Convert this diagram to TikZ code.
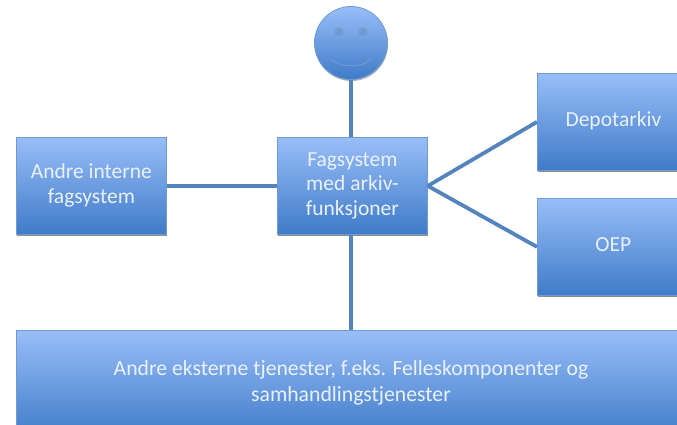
\documentclass[tikz,border=0pt]{standalone}
\usepackage{fontspec}
\setmainfont{Carlito}
\usetikzlibrary{shadows}
\definecolor{boxtop}{HTML}{98BEF8}
\definecolor{boxbot}{HTML}{3F7BC8}
\definecolor{boxedge}{HTML}{6F9BD2}
\definecolor{linkc}{HTML}{5384BE}
\definecolor{txt}{HTML}{EAF1FC}
\newcommand{\lowtext}[2]{\raisebox{-#1pt}{\begin{tabular}{@{}c@{}}#2\end{tabular}}}
\tikzset{
  x=1pt,y=-1pt,
  bluebox/.style={draw=boxedge,line width=0.8pt,top color=boxtop,bottom color=boxbot,
    text=txt,align=center,inner sep=0pt,anchor=north west,font=\fontsize{21.5}{24.7}\selectfont,
    drop shadow={shadow xshift=0.5pt,shadow yshift=-2pt,opacity=0.45,fill=black}},
  link/.style={draw=linkc,line width=3.8pt},
  facedetail/.style={draw=boxedge,line width=1pt}
}
\begin{document}
\begin{tikzpicture}
\useasboundingbox (0,0) rectangle (677,425);
\clip (0,0) rectangle (677,425);
\node[bluebox,minimum width=150pt,minimum height=97pt] (left) at (16,137) {\lowtext{3}{Andre interne\\fagsystem}};
\node[bluebox,minimum width=150pt,minimum height=97pt] (center) at (277,137) {\lowtext{3}{Fagsystem\\med arkiv-\\funksjoner}};
\node[bluebox,minimum width=152pt,minimum height=97pt] (depot) at (537,73) {\lowtext{4}{Depotarkiv}};
\node[bluebox,minimum width=152pt,minimum height=97pt] (oep) at (537,198) {\lowtext{2}{OEP}};
\node[bluebox,minimum width=680pt,minimum height=108pt] (bottom) at (16,330) {};
\node[text=txt,align=center,font=\fontsize{21.7}{26}\selectfont,anchor=center] (bottomtext) at (351,383) {Andre eksterne tjenester, f.eks. Felleskomponenter og\\samhandlingstjenester};
\node[circle,draw=boxedge,line width=0.8pt,top color=boxtop,bottom color=boxbot,minimum size=73pt,inner sep=0pt,anchor=center,
  drop shadow={shadow xshift=0.5pt,shadow yshift=-1.5pt,opacity=0.3,fill=black}] (face) at (351,43) {};
\fill[boxedge] (339,32) circle (4.5);
\fill[boxedge] (363,32) circle (4.5);
\draw[facedetail] (331,59) .. controls (339,68) and (363,68) .. (371,59);
\draw[link] (face.south) -- (face.south |- center.north);
\draw[link] (left.east) -- (center.west);
\draw[link] (face.south |- center.south) -- (face.south |- bottom.north);
\draw[link] (center.east) -- (depot.west);
\draw[link] (center.east) -- (oep.west);
\end{tikzpicture}
\end{document}
